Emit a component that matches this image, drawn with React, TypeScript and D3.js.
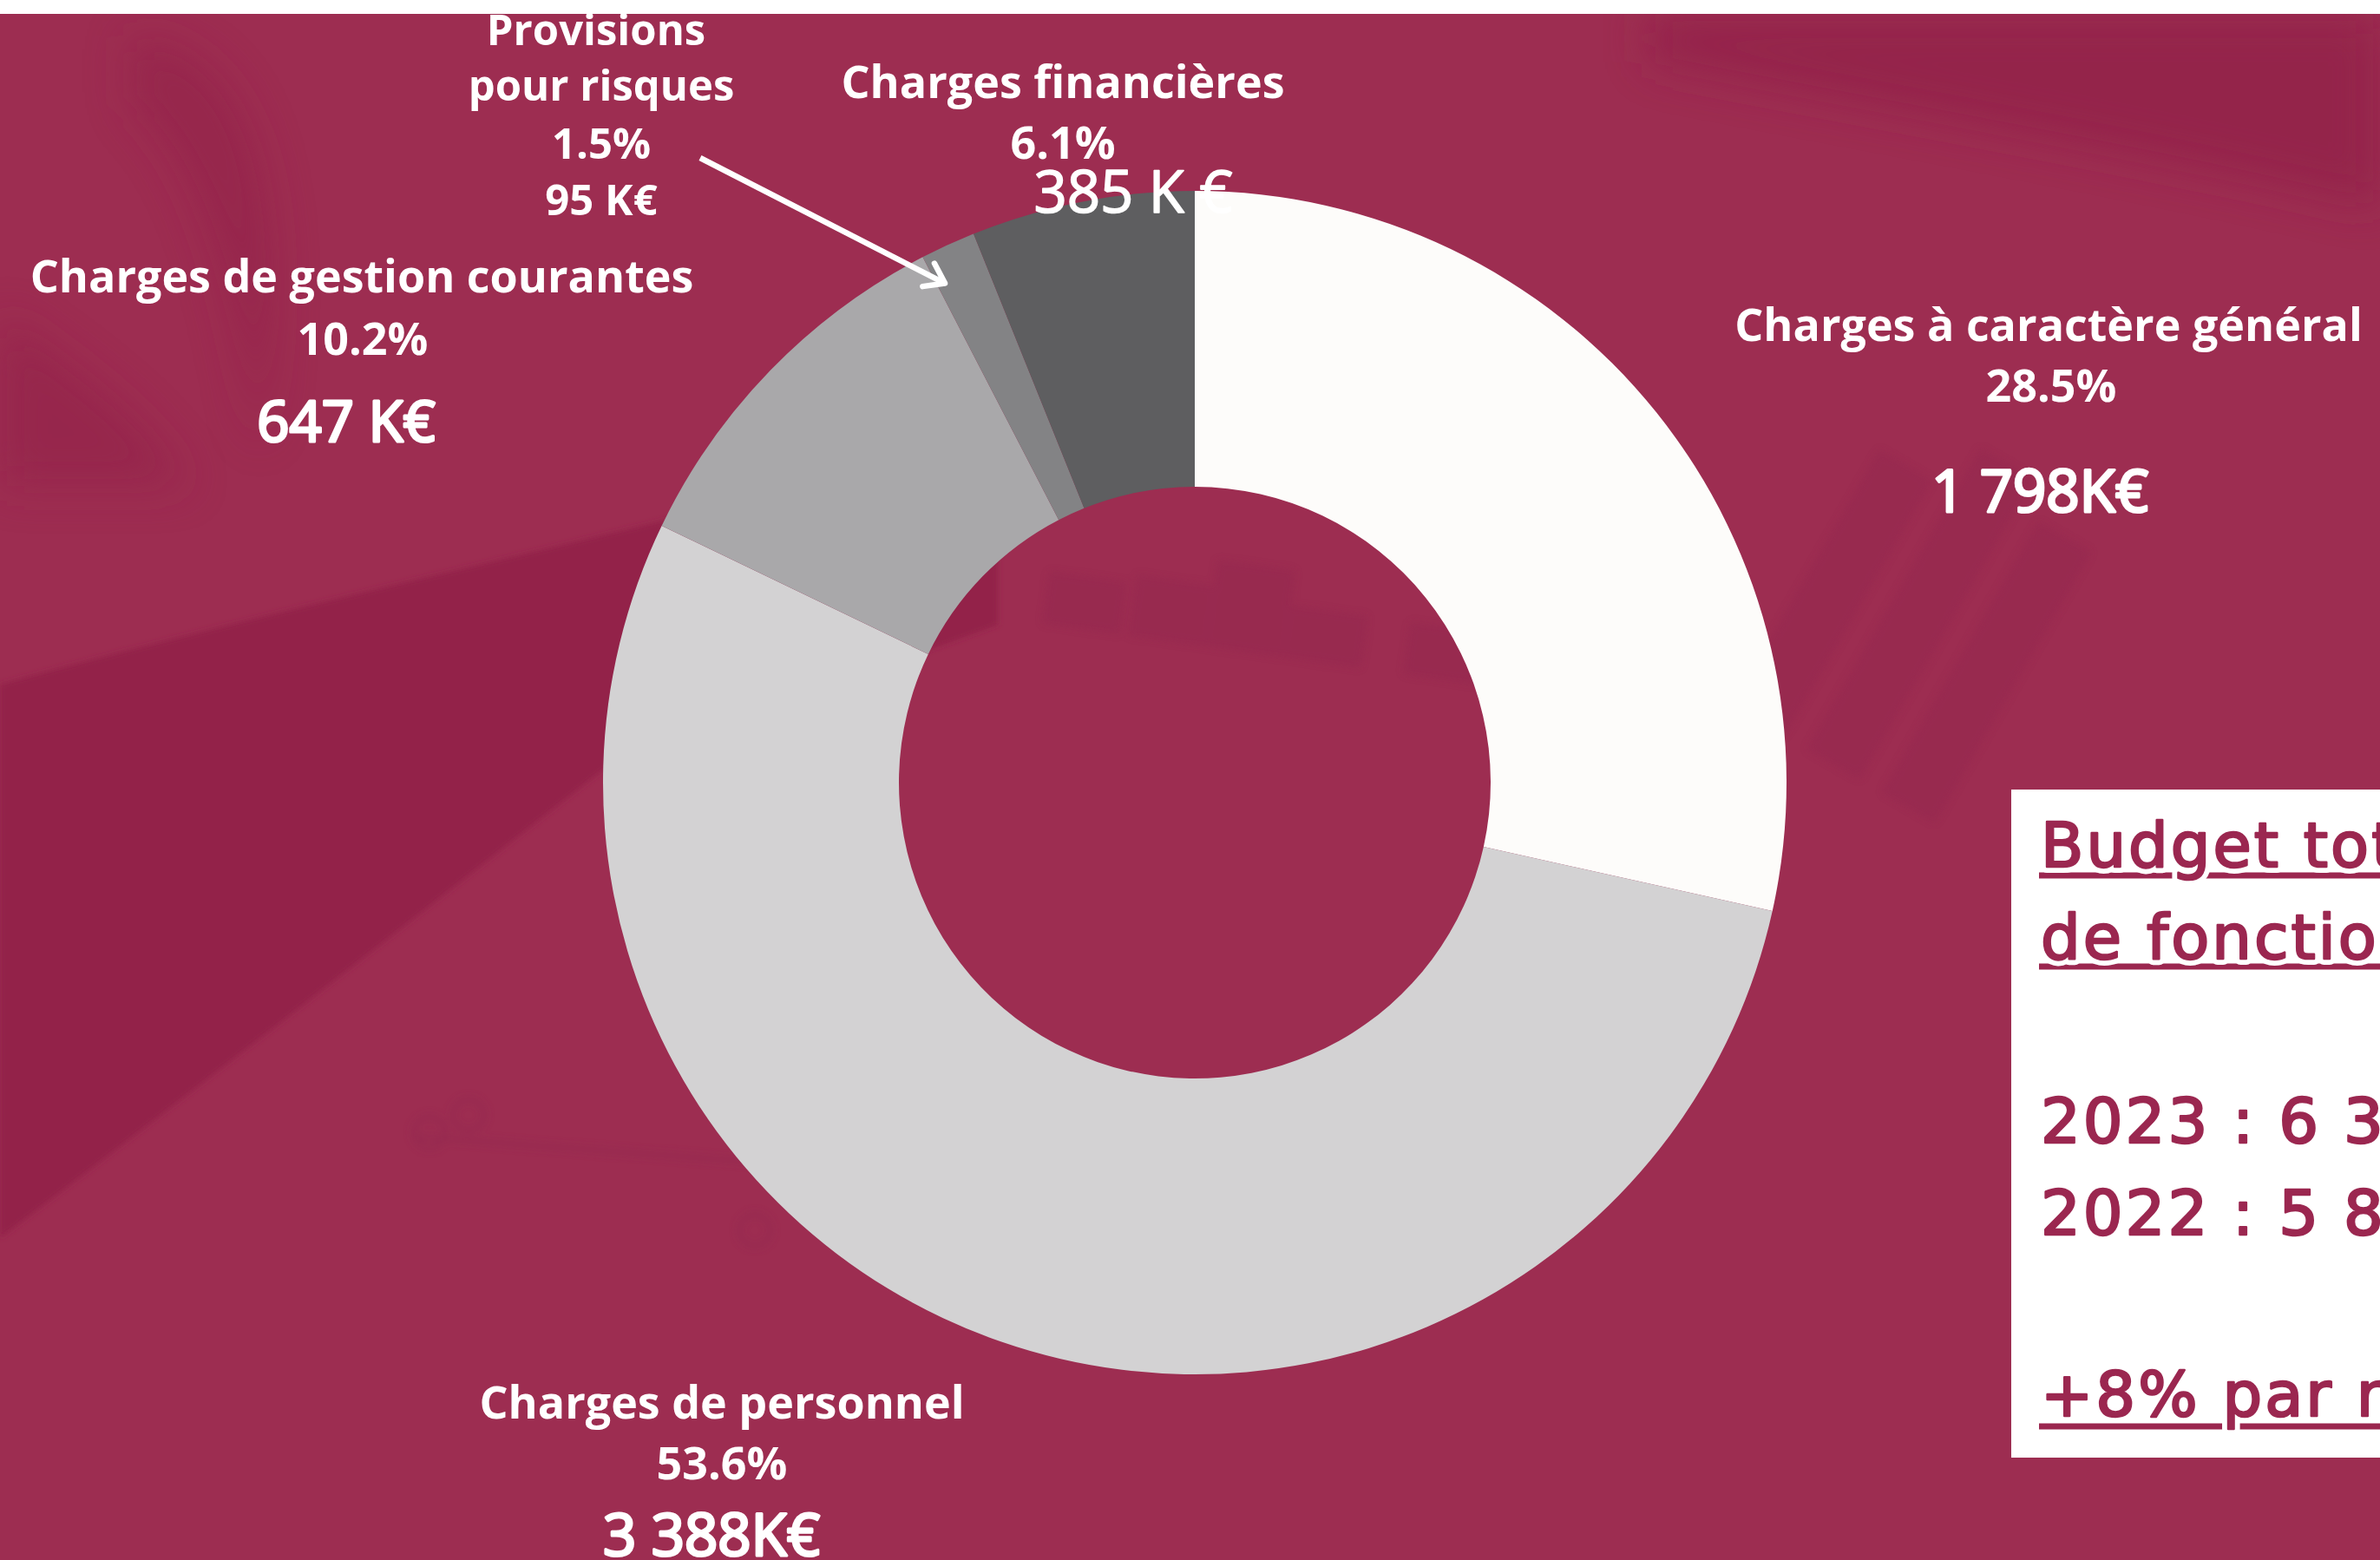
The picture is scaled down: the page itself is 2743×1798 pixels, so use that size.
import React from "react";
import * as d3 from "d3";

// ---- data ----
const categories = [
  "Charges à caractère général",
  "Charges de personnel",
  "Charges de gestion courantes",
  "Provisions pour risques",
  "Charges financières",
];
const valuesKEUR = [1798, 3388, 647, 95, 385];
const percentLabels = ["28.5%", "53.6%", "10.2%", "1.5%", "6.1%"];
const amountLabels = ["1 798K€", "3 388K€", "647 K€", "95 K€", "385 K €"];
const budgetLines = [
  "Budget total",
  "de fonctionnement",
  "2023 : 6 313 K€",
  "2022 : 5 845 K€",
  "+8% par rapport à 2022",
];

// ---- styles ----
const sliceColors = ["#FDFCFA", "#D3D2D3", "#A9A8AA", "#838385", "#5E5E60"];
const BG = "#9D2D51";
const BG_DARK = "#93244A";
const CRIMSON_TEXT = "#9B2750";

const W = 2743;
const H = 1798;
const CX = 1377;
const CY = 902;
const R_OUT = 682;
const R_IN = 341;

const LABEL_FONT = "'Open Sans', 'DejaVu Sans', sans-serif";

export default function App() {
  const pie = d3
    .pie<number>()
    .sort(null)
    .value((d) => d)
    .startAngle(0)
    .endAngle(2 * Math.PI);
  const arcs = pie(valuesKEUR);
  const arcGen = d3.arc<d3.PieArcDatum<number>>().innerRadius(R_IN).outerRadius(R_OUT);

  // label placements (index into data arrays); sw = extra stroke to emulate semibold
  const labelSpecs = [
    {
      i: 0,
      lines: [
        { t: categories[0], x: 2361, y: 393, size: 52, w: 700, sw: 0 },
        { t: percentLabels[0], x: 2364, y: 463, size: 52, w: 700, sw: 0 },
        { t: amountLabels[0], x: 2351, y: 590, size: 67, w: 400, sw: 3.2 },
      ],
    },
    {
      i: 1,
      lines: [
        { t: categories[1], x: 832, y: 1635, size: 52, w: 700, sw: 0 },
        { t: percentLabels[1], x: 832, y: 1705, size: 52, w: 700, sw: 0 },
        { t: amountLabels[1], x: 820, y: 1793, size: 67, w: 400, sw: 3.2 },
      ],
    },
    {
      i: 2,
      lines: [
        { t: categories[2], x: 417, y: 337, size: 52, w: 700, sw: 0 },
        { t: percentLabels[2], x: 418, y: 409, size: 52, w: 700, sw: 0 },
        { t: amountLabels[2], x: 399, y: 509, size: 65, w: 400, sw: 3.2 },
      ],
    },
    {
      i: 3,
      lines: [
        { t: "Provisions", x: 687, y: 52, size: 49, w: 700, sw: 0 },
        { t: "pour risques", x: 693, y: 116, size: 49, w: 700, sw: 0 },
        { t: percentLabels[3], x: 693, y: 183, size: 49, w: 700, sw: 0 },
        { t: amountLabels[3], x: 693, y: 248, size: 49, w: 700, sw: 0 },
      ],
    },
    {
      i: 4,
      lines: [
        { t: categories[4], x: 1225, y: 113, size: 52, w: 700, sw: 0 },
        { t: percentLabels[4], x: 1225, y: 183, size: 52, w: 700, sw: 0 },
        { t: amountLabels[4], x: 1306, y: 245, size: 67, w: 400, sw: 1.6 },
      ],
    },
  ];

  // arrow from Provisions label to its slice
  const provArc = arcs[3];
  const provMid = (provArc.startAngle + provArc.endAngle) / 2;
  const tip: [number, number] = [
    CX + Math.sin(provMid) * (R_OUT - 40) - 20,
    CY - Math.cos(provMid) * (R_OUT - 40) + 8,
  ];
  const start: [number, number] = [807, 182];
  const ang = Math.atan2(tip[1] - start[1], tip[0] - start[0]);
  const wingLen = 26;
  const wingA = (35 * Math.PI) / 180;
  const wing1: [number, number] = [
    tip[0] - wingLen * Math.cos(ang - wingA),
    tip[1] - wingLen * Math.sin(ang - wingA),
  ];
  const wing2: [number, number] = [
    tip[0] - wingLen * Math.cos(ang + wingA),
    tip[1] - wingLen * Math.sin(ang + wingA),
  ];

  const boxX = 2318;
  const boxY = 910;
  const boxBottom = 1680;
  const tx = 2352;
  const boxFont = "'DejaVu Sans', sans-serif";
  const boxRows = [
    { t: budgetLines[0], y: 999, ul: 1009 },
    { t: budgetLines[1], y: 1105, ul: 1114 },
    { t: budgetLines[2], y: 1317, ul: null },
    { t: budgetLines[3], y: 1423, ul: null },
    { t: budgetLines[4], y: 1632, ul: 1644 },
  ];

  return (
    <div style={{ position: "absolute", left: 0, top: 0, width: W, height: H, background: "#fff" }}>
      <svg width={W} height={H} viewBox={`0 0 ${W} ${H}`} style={{ display: "block" }}>
        <defs>
          <clipPath id="page">
            <rect x={0} y={16} width={W} height={H - 16} />
          </clipPath>
          <filter id="blur30" x="-50%" y="-50%" width="200%" height="200%">
            <feGaussianBlur stdDeviation={25} />
          </filter>
          <filter id="blur6" x="-50%" y="-50%" width="200%" height="200%">
            <feGaussianBlur stdDeviation={5} />
          </filter>
          <filter id="blur3" x="-50%" y="-50%" width="200%" height="200%">
            <feGaussianBlur stdDeviation={3} />
          </filter>
        </defs>
        <rect x={0} y={0} width={W} height={H} fill="#fff" />
        <g clipPath="url(#page)">
          {/* background */}
          <rect x={0} y={16} width={W} height={H - 16} fill={BG} />
          <g>
            <path
              d="M0,789 C250,720 520,660 765,600 L1150,470 L1150,720 L695,887 C450,1080 220,1260 0,1427 Z"
              fill={BG_DARK}
              filter="url(#blur3)"
            />
            <path d="M1900,16 L2743,16 L2743,240 C2500,180 2200,130 1900,70 Z" fill={BG_DARK} opacity={0.8} filter="url(#blur30)" />
            <path
              d="M150,40 C330,60 330,300 300,520 C280,420 250,200 150,120 Z"
              fill={BG_DARK}
              opacity={0.6}
              filter="url(#blur30)"
            />
            <path d="M0,360 C80,420 160,470 220,560 L0,560 Z" fill={BG_DARK} opacity={0.6} filter="url(#blur30)" />
          </g>
          {/* faint bars of the background photo */}
          <g fill="#922650" opacity={0.4} filter="url(#blur6)">
            <g transform="rotate(8 1500 750)">
              <rect x={1200} y={700} width={90} height={60} />
              <rect x={1300} y={690} width={90} height={70} />
              <rect x={1390} y={660} width={90} height={100} />
              <rect x={1480} y={700} width={90} height={60} />
              <rect x={1620} y={700} width={90} height={60} />
              <rect x={1710} y={680} width={90} height={80} />
              <rect x={1800} y={640} width={90} height={120} />
            </g>
            <g transform="rotate(30 2200 700)">
              <rect x={2080} y={560} width={70} height={340} />
              <rect x={2180} y={500} width={70} height={400} />
              <rect x={2280} y={540} width={70} height={360} />
            </g>
          </g>
          <g fill="none" stroke="#8E2550" strokeWidth={6} opacity={0.4} filter="url(#blur6)">
            <path d="M480,1310 L880,1340 L1500,1270" />
            <circle cx={495} cy={1305} r={18} />
            <circle cx={540} cy={1285} r={18} />
            <circle cx={870} cy={1418} r={18} />
          </g>

          {/* donut */}
          <g transform={`translate(${CX},${CY})`}>
            {arcs.map((a, i) => (
              <path key={categories[i]} d={arcGen(a) || ""} fill={sliceColors[i]} />
            ))}
          </g>

          {/* labels */}
          {labelSpecs.map((spec) => (
            <g key={spec.i}>
              {spec.lines.map((ln, k) => (
                <text
                  key={k}
                  x={ln.x}
                  y={ln.y}
                  textAnchor="middle"
                  fontFamily={LABEL_FONT}
                  fontWeight={ln.w}
                  fontSize={ln.size}
                  fill="#FFFFFF"
                  stroke={ln.sw > 0 ? "#FFFFFF" : "none"}
                  strokeWidth={ln.sw}
                  strokeLinejoin="round"
                >
                  {ln.t}
                </text>
              ))}
            </g>
          ))}

          {/* arrow */}
          <g stroke="#FFFFFF" strokeWidth={6.5} strokeLinecap="round" fill="none">
            <line x1={start[0]} y1={start[1]} x2={tip[0]} y2={tip[1]} strokeLinecap="butt" />
            <polyline points={`${wing1[0]},${wing1[1]} ${tip[0]},${tip[1]} ${wing2[0]},${wing2[1]}`} strokeLinejoin="round" />
          </g>

          {/* budget box */}
          <rect x={boxX} y={boxY} width={W - boxX + 10} height={boxBottom - boxY} fill="#FFFFFF" />
          {boxRows.map((row, k) =>
            row.ul !== null ? (
              <rect key={"ul" + k} x={2350} y={row.ul - 3.5} width={W - 2350} height={7} fill={CRIMSON_TEXT} />
            ) : null
          )}
          {boxRows.map((row, k) => (
            <text
              key={"ko" + k}
              x={tx}
              y={row.y}
              fontFamily={boxFont}
              fontSize={72}
              letterSpacing={3}
              fill="#FFFFFF"
              stroke="#FFFFFF"
              strokeWidth={14}
              strokeLinejoin="round"
            >
              {row.t}
            </text>
          ))}
          {boxRows.map((row, k) => (
            <text
              key={"t" + k}
              x={tx}
              y={row.y}
              fontFamily={boxFont}
              fontSize={72}
              letterSpacing={3}
              fill={CRIMSON_TEXT}
              stroke={CRIMSON_TEXT}
              strokeWidth={2.5}
              strokeLinejoin="round"
            >
              {row.t}
            </text>
          ))}
        </g>
      </svg>
    </div>
  );
}
